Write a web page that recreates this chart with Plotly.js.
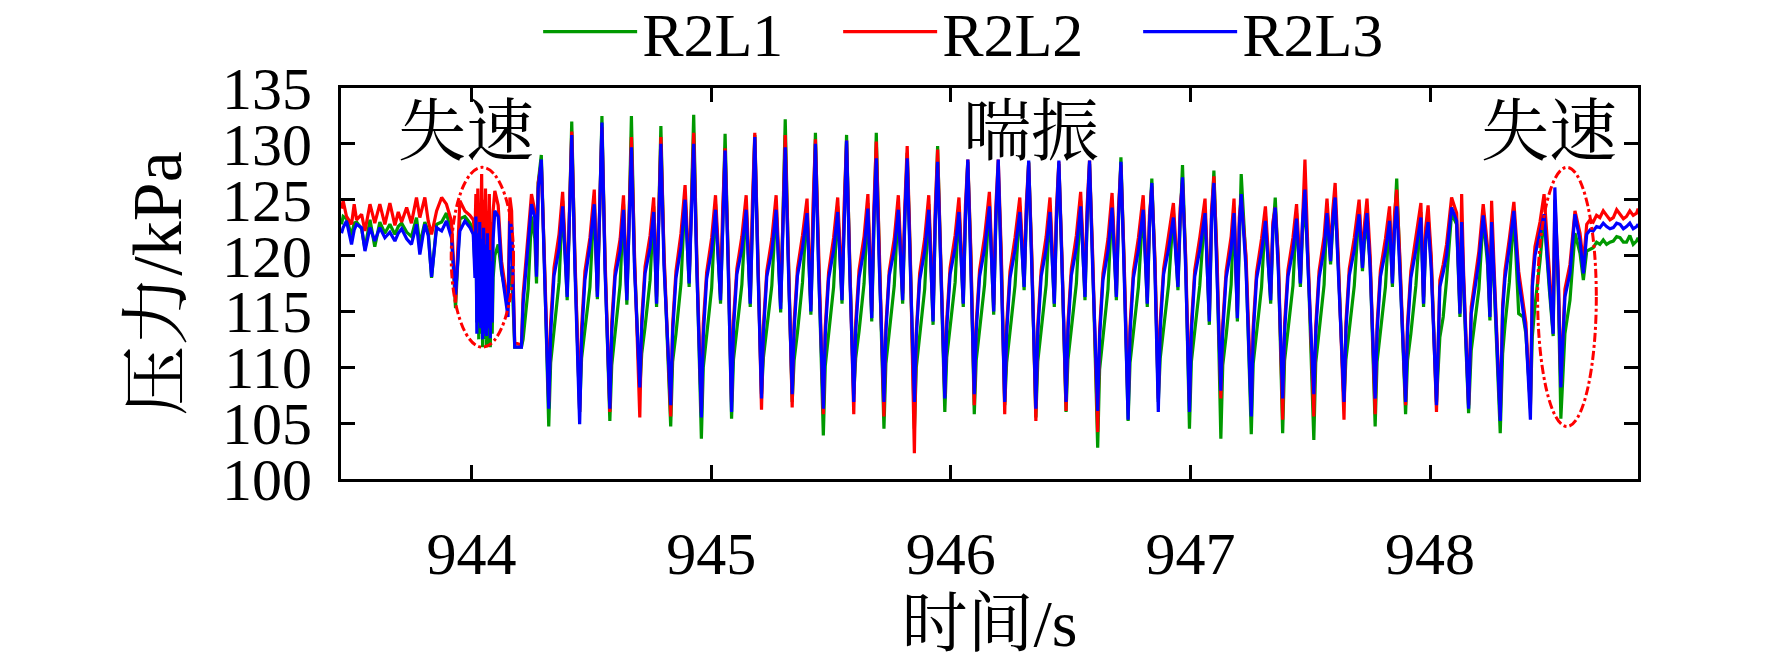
<!DOCTYPE html>
<html>
<head>
<meta charset="utf-8">
<script src="https://cdn.plot.ly/plotly-3.0.1.min.js"></script>
<style>
    html, body { margin: 0; padding: 0; background: #fff; }
    #chart { width: 1772px; height: 665px; }
</style>
</head>
<body>
<div id="chart"></div>
<script>

// time in s, one line per surge cycle once the surge has started
const time = [
    943.457, 943.464, 943.478, 943.499, 943.510, 943.520, 943.541, 943.555,
    943.576, 943.596, 943.617, 943.638, 943.659, 943.680, 943.694, 943.708,
    943.729, 943.749, 943.770, 943.784, 943.805, 943.819, 943.833, 943.854,
    943.875, 943.895, 943.916, 943.933, 943.951, 943.972, 943.993, 944.007,
    944.014, 944.018, 944.022, 944.026, 944.030, 944.034, 944.038, 944.042,
    944.046, 944.050, 944.054, 944.058, 944.062, 944.066, 944.070, 944.074,
    944.078, 944.082, 944.086, 944.090, 944.097, 944.111, 944.125, 944.139,
    944.152, 944.160, 944.167, 944.180, 944.208, 944.215, 944.236, 944.250,
    944.264, 944.271, 944.278, 944.291, 944.305,
    944.322, 944.330, 944.344, 944.365, 944.380, 944.399, 944.408, 944.418, 944.431,
    944.451, 944.459, 944.473, 944.494, 944.512, 944.525, 944.534, 944.544, 944.557,
    944.577, 944.585, 944.599, 944.620, 944.634, 944.648, 944.657, 944.667, 944.680,
    944.702, 944.710, 944.724, 944.745, 944.760, 944.772, 944.781, 944.790, 944.803,
    944.831, 944.839, 944.853, 944.874, 944.891, 944.908, 944.917, 944.927, 944.940,
    944.959, 944.967, 944.981, 945.002, 945.018, 945.039, 945.048, 945.058, 945.071,
    945.085, 945.093, 945.107, 945.128, 945.146, 945.163, 945.172, 945.182, 945.195,
    945.210, 945.218, 945.232, 945.253, 945.271, 945.290, 945.299, 945.309, 945.322,
    945.338, 945.346, 945.360, 945.381, 945.400, 945.416, 945.425, 945.435, 945.448,
    945.468, 945.476, 945.490, 945.511, 945.528, 945.546, 945.555, 945.565, 945.578,
    945.595, 945.603, 945.617, 945.638, 945.654, 945.670, 945.679, 945.689, 945.702,
    945.721, 945.729, 945.743, 945.764, 945.781, 945.799, 945.808, 945.818, 945.831,
    945.848, 945.856, 945.870, 945.891, 945.908, 945.926, 945.935, 945.945, 945.958,
    945.975, 945.983, 945.997, 946.018, 946.034, 946.052, 946.061, 946.071, 946.084,
    946.098, 946.106, 946.120, 946.141, 946.161, 946.179, 946.188, 946.198, 946.211,
    946.225, 946.233, 946.247, 946.268, 946.288, 946.306, 946.315, 946.325, 946.338,
    946.355, 946.363, 946.377, 946.398, 946.414, 946.432, 946.441, 946.451, 946.464,
    946.481, 946.489, 946.503, 946.524, 946.542, 946.560, 946.569, 946.579, 946.592,
    946.613, 946.621, 946.635, 946.656, 946.673, 946.691, 946.700, 946.710, 946.723,
    946.740, 946.748, 946.762, 946.783, 946.803, 946.820, 946.829, 946.839, 946.852,
    946.866, 946.874, 946.888, 946.909, 946.929, 946.948, 946.957, 946.967, 946.980,
    946.996, 947.004, 947.018, 947.039, 947.061, 947.079, 947.088, 947.098, 947.111,
    947.127, 947.135, 947.149, 947.170, 947.182, 947.196, 947.204, 947.212, 947.232,
    947.254, 947.262, 947.276, 947.297, 947.313, 947.335, 947.344, 947.354, 947.367,
    947.385, 947.393, 947.407, 947.428, 947.443, 947.459, 947.468, 947.478, 947.491,
    947.515, 947.523, 947.537, 947.558, 947.570, 947.585, 947.594, 947.604, 947.617,
    947.641, 947.649, 947.663, 947.684, 947.704, 947.718, 947.727, 947.737, 947.750,
    947.771, 947.779, 947.793, 947.814, 947.831, 947.843, 947.852, 947.861, 947.874,
    947.898, 947.906, 947.920, 947.941, 947.962, 947.973, 947.982, 947.992, 948.005,
    948.027, 948.041, 948.055, 948.069, 948.090, 948.111, 948.125, 948.132, 948.140,
    948.161, 948.172, 948.183, 948.204, 948.222, 948.240, 948.250, 948.257, 948.268,
    948.293, 948.303, 948.313, 948.331, 948.350, 948.370, 948.389, 948.400,
    948.419, 948.427, 948.438, 948.459, 948.476, 948.497, 948.514, 948.521, 948.535,
    948.546, 948.563, 948.584, 948.605, 948.626, 948.640, 948.654, 948.668,
    948.681, 948.695, 948.709, 948.723, 948.737, 948.751, 948.765, 948.779,
    948.793, 948.807, 948.820, 948.834, 948.848, 948.862, 948.869
];

// R2L1 pressure, kPa
const r2l1 = [
    122.8, 123.5, 123.3, 121.8, 122.9, 123.0, 122.4, 120.6,
    123.2, 120.8, 123.0, 122.0, 122.8, 121.9, 122.6, 122.9,
    122.1, 121.7, 123.4, 121.0, 123.0, 122.2, 118.0, 122.8,
    123.0, 123.8, 122.0, 115.3, 123.3, 123.5, 122.9, 122.3,
    119.0, 123.0, 114.0, 121.0, 112.5, 122.0, 113.0, 120.5,
    111.8, 121.5, 112.5, 120.0, 111.8, 121.0, 112.0, 119.0,
    111.8, 118.0, 113.0, 118.0, 120.0, 121.0, 118.5, 117.0,
    116.0, 118.5, 119.0, 111.8, 111.8, 112.5, 117.0, 123.5,
    121.5, 117.5, 126.5, 129.0, 118.5,
    104.7, 110.4, 113.2, 117.6, 124.9, 116.0, 123.1, 132.0, 119.6,
    106.0, 110.8, 113.5, 117.2, 125.1, 116.1, 123.4, 132.5, 119.2,
    105.2, 110.2, 112.9, 117.4, 124.6, 115.6, 122.8, 132.5, 119.4,
    108.0, 111.2, 113.6, 117.8, 124.4, 115.4, 122.9, 131.6, 119.8,
    104.7, 110.5, 113.0, 117.5, 125.5, 117.2, 123.6, 132.6, 119.3,
    103.6, 110.0, 112.7, 117.1, 124.6, 115.7, 122.7, 130.9, 119.5,
    105.4, 110.7, 113.3, 117.4, 124.6, 115.4, 123.2, 130.8, 119.4,
    107.6, 110.9, 113.4, 117.3, 124.6, 114.9, 123.0, 132.2, 119.7,
    106.9, 110.6, 113.1, 117.6, 124.3, 114.7, 123.1, 131.0, 119.5,
    103.9, 110.1, 112.8, 117.2, 124.4, 115.7, 123.2, 130.8, 119.3,
    107.6, 110.8, 113.2, 117.5, 124.7, 114.1, 122.9, 131.0, 119.5,
    104.5, 110.3, 112.9, 117.3, 124.6, 115.7, 123.0, 129.2, 119.6,
    104.5, 110.0, 112.6, 117.0, 124.6, 113.8, 122.7, 129.8, 119.2,
    106.0, 110.9, 113.4, 117.6, 124.4, 115.4, 123.1, 128.4, 119.7,
    105.8, 110.6, 113.1, 117.4, 124.9, 114.7, 123.0, 127.5, 119.4,
    106.6, 110.4, 113.0, 117.3, 124.4, 116.9, 123.2, 128.4, 119.6,
    105.5, 110.5, 113.1, 117.4, 124.4, 115.4, 122.9, 128.2, 119.3,
    106.0, 110.7, 113.2, 117.5, 124.9, 116.0, 123.1, 128.2, 119.5,
    102.8, 109.8, 112.5, 117.0, 124.8, 116.0, 123.0, 128.8, 119.4,
    105.2, 110.4, 113.0, 117.2, 124.6, 115.4, 122.5, 126.9, 119.2,
    106.9, 110.8, 113.3, 117.4, 123.9, 116.9, 122.8, 128.1, 119.6,
    104.5, 110.5, 113.1, 117.3, 124.3, 113.8, 122.7, 127.6, 119.3,
    103.6, 110.2, 112.8, 117.4, 124.3, 114.1, 122.2, 127.3, 119.4,
    104.0, 110.3, 112.9, 117.2, 123.6, 115.7, 121.9, 125.2, 119.2,
    104.1, 110.6, 113.1, 117.3, 123.8, 117.2, 122.3, 124.5, 119.4,
    103.5, 110.4, 113.0, 117.4, 124.3, 119.2, 122.6, 124.8, 119.3,
    106.9, 110.7, 113.2, 117.3, 124.2, 118.6, 121.5, 122.5, 119.5,
    104.7, 110.5, 113.1, 117.2, 123.6, 117.2, 122.9, 126.9, 119.3,
    105.8, 110.6, 113.0, 117.3, 123.9, 115.4, 121.2, 123.5, 119.4,
    106.9, 112.7, 114.5, 117.8, 123.8, 122.8, 114.5, 122.0, 117.2,
    105.9, 111.5, 113.5, 117.0, 123.5, 119.2, 114.2, 122.0, 117.2,
    104.1, 111.2, 113.8, 117.6, 123.9, 114.8, 114.5, 113.0,
    106.6, 112.8, 115.5, 119.5, 123.5, 117.2, 112.8, 124.0, 117.2,
    105.4, 113.0, 116.0, 122.0, 120.2, 117.8, 120.4, 120.6,
    120.7, 121.2, 121.0, 121.4, 121.0, 121.2, 121.3, 121.7,
    121.6, 121.2, 121.2, 121.8, 121.0, 121.3, 121.6
];

// R2L2 pressure, kPa
const r2l2 = [
    124.2, 124.9, 123.5, 122.8, 124.6, 123.2, 123.7, 122.2,
    124.6, 122.9, 124.6, 122.8, 124.7, 122.7, 123.9, 123.0,
    124.3, 122.9, 125.2, 123.4, 125.2, 123.1, 121.9, 124.0,
    125.2, 124.6, 123.1, 115.8, 124.9, 124.0, 123.6, 123.2,
    122.0, 125.5, 119.0, 126.0, 120.0, 124.5, 121.0, 127.3,
    118.0, 125.0, 121.5, 126.0, 119.5, 124.0, 120.0, 125.5,
    118.5, 123.0, 119.0, 124.0, 125.8, 124.5, 119.5, 117.5,
    115.5, 125.2, 124.0, 112.2, 112.0, 116.5, 122.0, 125.5,
    124.0, 119.0, 126.5, 128.3, 119.0,
    106.9, 114.0, 118.9, 121.9, 125.7, 116.9, 124.6, 131.1, 120.2,
    106.0, 113.5, 118.6, 121.6, 125.9, 116.8, 124.8, 131.5, 119.8,
    106.0, 114.1, 118.7, 121.5, 125.4, 116.6, 124.3, 130.6, 120.1,
    105.5, 114.3, 119.0, 121.8, 125.2, 116.3, 124.4, 130.6, 120.3,
    105.6, 113.8, 118.6, 122.0, 126.3, 118.1, 125.0, 131.0, 119.9,
    106.0, 113.9, 118.5, 121.6, 125.4, 116.6, 124.2, 129.6, 120.0,
    106.9, 114.2, 118.8, 121.7, 125.4, 116.3, 124.7, 131.0, 120.1,
    106.2, 113.7, 118.6, 121.5, 125.4, 115.8, 124.4, 130.8, 120.2,
    106.4, 114.0, 118.8, 121.8, 125.1, 115.6, 124.5, 130.4, 120.0,
    105.8, 113.6, 118.5, 121.6, 125.2, 116.6, 124.6, 130.3, 119.9,
    105.8, 114.0, 118.7, 121.7, 125.5, 115.0, 124.3, 130.2, 120.0,
    105.6, 113.7, 118.6, 121.5, 125.4, 116.6, 124.4, 129.8, 120.1,
    102.3, 113.2, 118.4, 121.5, 125.4, 114.7, 124.2, 129.5, 119.8,
    107.5, 114.2, 118.9, 121.8, 125.2, 116.3, 124.5, 128.6, 120.2,
    106.6, 113.9, 118.7, 121.7, 125.7, 115.6, 124.4, 128.6, 120.0,
    105.8, 113.7, 118.6, 121.6, 125.2, 117.8, 124.6, 128.3, 120.1,
    105.2, 113.8, 118.7, 121.7, 125.2, 116.3, 124.3, 128.4, 119.9,
    106.1, 114.0, 118.8, 121.8, 125.7, 116.9, 124.5, 128.5, 120.1,
    104.2, 113.3, 118.4, 121.5, 125.6, 116.9, 124.4, 128.1, 119.9,
    106.3, 113.7, 118.6, 121.6, 125.4, 116.3, 123.6, 126.2, 119.8,
    107.2, 114.1, 118.8, 121.7, 124.7, 117.8, 124.2, 126.5, 120.1,
    106.9, 113.8, 118.7, 121.6, 125.1, 114.7, 124.1, 127.1, 119.9,
    107.2, 113.9, 118.6, 121.7, 125.1, 115.0, 123.4, 125.2, 120.0,
    106.9, 113.6, 118.5, 121.5, 124.4, 116.6, 123.0, 124.3, 119.8,
    105.3, 113.9, 118.7, 121.6, 124.6, 118.1, 124.0, 128.6, 120.0,
    105.6, 113.7, 118.6, 121.7, 125.1, 120.1, 124.0, 126.5, 119.9,
    105.3, 114.0, 118.8, 121.6, 125.0, 119.5, 122.9, 125.1, 120.1,
    105.8, 113.8, 118.7, 121.5, 124.4, 118.1, 123.8, 125.9, 119.9,
    106.6, 113.9, 118.6, 121.6, 124.7, 116.3, 122.5, 124.5, 120.0,
    106.0, 117.8, 119.2, 121.0, 125.2, 123.8, 115.4, 125.5, 118.6,
    106.6, 115.4, 117.2, 120.4, 124.6, 120.8, 115.1, 124.9, 118.6,
    105.6, 115.6, 118.7, 121.5, 124.8, 118.6, 115.4, 114.0,
    106.3, 117.8, 120.8, 123.0, 125.5, 118.6, 113.6, 125.0, 118.6,
    108.5, 117.0, 119.2, 124.0, 122.0, 119.3, 122.8, 123.2,
    123.0, 123.6, 123.4, 124.0, 123.6, 123.2, 123.4, 124.1,
    123.7, 123.3, 123.5, 124.0, 123.6, 123.8, 124.2
];

// R2L3 pressure, kPa
const r2l3 = [
    122.0, 122.5, 123.1, 121.0, 122.3, 122.8, 122.5, 120.4,
    122.5, 121.3, 122.5, 121.6, 122.1, 121.3, 122.0, 122.4,
    121.5, 121.0, 122.8, 120.1, 122.8, 121.8, 118.1, 122.5,
    122.2, 123.1, 121.6, 116.5, 122.2, 123.1, 122.5, 121.9,
    118.0, 123.5, 113.0, 122.0, 114.0, 123.0, 113.5, 121.5,
    112.5, 122.5, 113.0, 121.0, 112.8, 122.0, 113.5, 120.5,
    112.6, 119.5, 114.0, 121.5, 124.0, 123.5, 118.7, 116.6,
    114.5, 123.1, 122.5, 111.8, 111.8, 115.7, 121.0, 124.6,
    123.4, 118.1, 126.0, 128.6, 118.0,
    106.3, 113.0, 118.2, 120.6, 124.4, 116.3, 123.6, 130.8, 119.0,
    104.9, 112.6, 117.8, 120.9, 124.6, 116.3, 124.0, 131.9, 118.6,
    106.3, 113.2, 118.1, 120.4, 124.1, 116.0, 123.2, 129.7, 118.8,
    108.2, 113.6, 118.4, 120.7, 123.9, 115.7, 123.4, 130.0, 119.1,
    106.6, 113.1, 118.0, 120.8, 125.0, 117.5, 124.1, 130.0, 118.7,
    105.5, 112.8, 117.9, 120.5, 124.1, 116.0, 123.3, 129.4, 118.9,
    106.0, 113.4, 118.3, 120.6, 124.1, 115.7, 123.8, 130.6, 118.8,
    107.2, 113.0, 118.1, 120.4, 124.1, 115.2, 123.5, 129.7, 119.0,
    107.6, 113.3, 118.2, 120.7, 123.8, 115.0, 123.6, 130.0, 118.9,
    106.3, 112.9, 117.9, 120.5, 123.9, 116.0, 123.7, 130.3, 118.7,
    106.9, 113.2, 118.0, 120.6, 124.2, 114.4, 123.4, 128.7, 118.8,
    106.9, 113.1, 118.2, 120.5, 124.1, 116.0, 123.5, 128.7, 118.9,
    106.9, 112.8, 117.8, 120.4, 124.1, 114.1, 123.2, 128.4, 118.6,
    107.2, 113.5, 118.3, 120.7, 123.9, 115.7, 123.6, 128.6, 119.0,
    107.6, 113.2, 118.1, 120.6, 124.4, 115.0, 123.5, 128.6, 118.8,
    106.9, 113.0, 118.0, 120.5, 123.9, 117.2, 123.7, 128.5, 118.9,
    106.3, 113.1, 118.1, 120.6, 123.9, 115.7, 123.4, 128.5, 118.7,
    106.9, 113.3, 118.2, 120.7, 124.4, 116.3, 123.6, 128.5, 118.9,
    106.1, 112.7, 117.8, 120.4, 124.3, 116.3, 123.5, 128.4, 118.7,
    105.3, 113.0, 118.0, 120.5, 124.1, 115.7, 122.9, 126.5, 118.6,
    106.0, 113.4, 118.3, 120.6, 123.4, 117.2, 123.4, 127.0, 118.9,
    106.0, 113.1, 118.1, 120.5, 123.8, 114.1, 123.3, 126.5, 118.7,
    107.9, 113.2, 118.0, 120.6, 123.8, 114.4, 122.6, 125.5, 118.8,
    105.6, 112.9, 117.9, 120.4, 123.1, 116.0, 122.4, 124.3, 118.6,
    107.2, 113.2, 118.1, 120.5, 123.3, 117.5, 123.0, 125.9, 118.8,
    107.6, 113.0, 118.0, 120.6, 123.8, 119.5, 123.2, 125.2, 118.7,
    106.9, 113.3, 118.2, 120.5, 123.7, 118.9, 122.0, 123.8, 118.9,
    107.2, 113.1, 118.1, 120.4, 123.1, 117.5, 122.6, 124.4, 118.7,
    106.9, 113.2, 118.0, 120.5, 123.4, 115.7, 121.5, 123.0, 118.8,
    106.6, 117.2, 118.5, 120.0, 124.3, 123.1, 114.8, 123.0, 117.8,
    106.3, 114.8, 116.5, 119.5, 123.6, 120.0, 114.5, 123.0, 117.8,
    105.2, 115.0, 118.0, 120.7, 124.0, 117.8, 114.8, 113.3,
    105.3, 117.2, 120.0, 122.2, 123.7, 117.8, 113.0, 126.1, 117.8,
    108.2, 116.3, 118.4, 123.7, 121.3, 118.4, 121.9, 122.3,
    122.2, 122.6, 122.5, 122.9, 122.6, 122.4, 122.5, 122.9,
    122.8, 122.4, 122.6, 122.9, 122.4, 122.6, 122.8
];

const seriesNames = ['R2L1', 'R2L2', 'R2L3'];
const seriesColors = ['#009900', '#ff0000', '#0000ff'];

// text labels over the trace: [text, time, pressure]
const phaseLabels = [
    ['失速', 943.976, 131.6],
    ['喘振', 946.334, 131.6],
    ['失速', 948.495, 131.6]
];

// stall regions circled on the chart: [t0, t1, p0, p1]
const stallZones = [
    [943.915, 944.175, 111.8, 127.9],
    [948.449, 948.694, 104.7, 127.9]
];

const serif = 'Liberation Serif, Times New Roman, serif';
const cjk = 'Noto Serif CJK SC, Noto Sans CJK SC, serif';
const mixed = 'Liberation Serif, Noto Serif CJK SC, Noto Sans CJK SC, serif';


function make_trace(values, i)
{
    return {
        x: time,
        y: values,
        type: 'scatter',
        mode: 'lines',
        name: seriesNames[i],
        line: {color: seriesColors[i], width: 3.2}
    };
}


function make_axis(range, title, size, standoff)
{
    return {
        range: range,
        ticks: 'inside',
        ticklen: 14,
        tickwidth: 3,
        tickcolor: '#000',
        showline: true,
        linewidth: 3,
        linecolor: '#000',
        mirror: 'ticks',
        showgrid: false,
        zeroline: false,
        automargin: false,
        tickfont: {family: serif, size: 60, color: '#000'},
        title: {text: title, font: {family: mixed, size: size, color: '#000'}, standoff: standoff}
    };
}


let traces = [r2l1, r2l2, r2l3].map(make_trace);

let xaxis = make_axis([943.455, 948.868], '时间/s', 66, 14);
xaxis.tickvals = [944, 945, 946, 947, 948];
xaxis.ticklabelstandoff = 20;

let yaxis = make_axis([100, 135], '压力/kPa', 70, 18);
yaxis.tickvals = [100, 105, 110, 115, 120, 125, 130, 135];
yaxis.ticklabelstandoff = 14;

let annotations = phaseLabels.map(l => ({
    text: l[0], x: l[1], y: l[2], xref: 'x', yref: 'y',
    showarrow: false, xanchor: 'center', yanchor: 'middle',
    font: {family: cjk, size: 68, color: '#000'}
}));

let shapes = stallZones.map(z => ({
    type: 'circle', xref: 'x', yref: 'y',
    x0: z[0], x1: z[1], y0: z[2], y1: z[3],
    line: {color: '#ff0000', width: 3, dash: 'dashdot'}
}));

let layout = {
    width: 1772,
    height: 665,
    margin: {l: 341, r: 134, t: 88, b: 186, autoexpand: false},
    paper_bgcolor: '#fff',
    plot_bgcolor: '#fff',
    xaxis: xaxis,
    yaxis: yaxis,
    showlegend: true,
    legend: {
        orientation: 'h',
        x: 0.152, xanchor: 'left',
        yref: 'container',
        y: 0.952, yanchor: 'middle',
        font: {family: serif, size: 62, color: '#000'},
        itemwidth: 94,
        entrywidth: 191,
        entrywidthmode: 'pixels',
        bgcolor: 'rgba(0,0,0,0)'
    },
    annotations: annotations,
    shapes: shapes
};

Plotly.newPlot('chart', traces, layout, {staticPlot: true});
</script>
</body>
</html>
